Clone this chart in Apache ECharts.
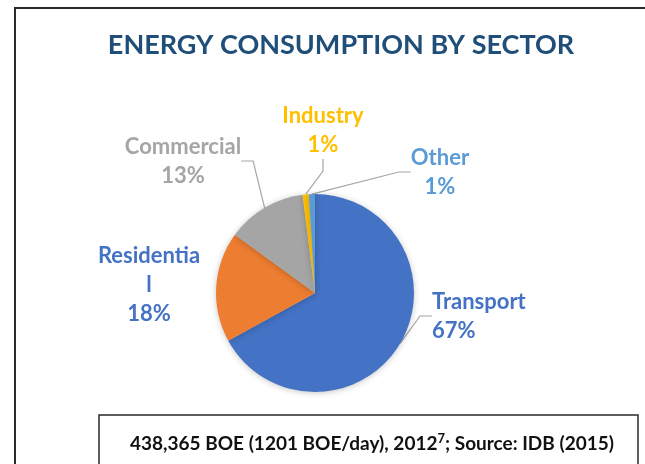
<!DOCTYPE html>
<html><head><meta charset="utf-8">
<script src="https://cdn.jsdelivr.net/npm/echarts@6/dist/echarts.min.js"></script>
<style>html,body{margin:0;padding:0;background:#fff}#c{width:645px;height:464px}</style>
</head><body><div id="c"></div>
<script>
// ---- data ----
const chartTitle = 'ENERGY CONSUMPTION BY SECTOR';
const categories = ['Transport', 'Residential', 'Commercial', 'Industry', 'Other'];
const values = [67, 18, 13, 1, 1];
const labelNames = ['Transport', 'Residentia\nl', 'Commercial', 'Industry', 'Other'];
const footMain = '438,365 BOE (1201 BOE/day), 2012';
const footSup = '7';
const footTail = '; Source: IDB (2015)';

// ---- styles / layout ----
const sliceColors = ['#4472C4', '#ED7D31', '#A5A5A5', '#FFC000', '#5B9BD5'];
const labelColors = ['#4472C4', '#4472C4', '#A5A5A5', '#FFC000', '#5B9BD5'];
const showLeader = [true, false, true, true, true];
const labelAnchors = [
  { x: 432, y: 316, align: 'left' },
  { x: 149, y: 285, align: 'center' },
  { x: 183, y: 161, align: 'center' },
  { x: 323, y: 130, align: 'center' },
  { x: 440, y: 172, align: 'center' }
];
const FONT = 'Lato';

const chart = echarts.init(document.getElementById('c'), null, { renderer: 'canvas' });
chart.setOption({
  animation: false,
  backgroundColor: '#ffffff',
  graphic: [
    { type: 'rect', z: 0, shape: { x: 15, y: 8, width: 700, height: 520 },
      style: { fill: '#fff', stroke: '#2a2a2a', lineWidth: 2 } },
    { type: 'text', z: 5, x: 341, y: 45,
      style: { text: chartTitle, textAlign: 'center', textVerticalAlign: 'middle',
        fontFamily: FONT, fontWeight: 'bold', fontSize: 27, fill: '#1F4E79' } },
    { type: 'rect', z: 5, shape: { x: 99, y: 415, width: 539, height: 80 },
      style: { fill: '#fff', stroke: '#2a2a2a', lineWidth: 1.5 } },
    { type: 'text', z: 6, x: 372, y: 444,
      style: {
        text: '{a|' + footMain + '}{s|' + footSup + '}{a|' + footTail + '}',
        textAlign: 'center', textVerticalAlign: 'middle',
        rich: {
          a: { fontFamily: FONT, fontWeight: 'bold', fontSize: 19, fill: '#111', lineHeight: 24 },
          s: { fontFamily: FONT, fontWeight: 'bold', fontSize: 13, fill: '#111', verticalAlign: 'top', lineHeight: 13 }
        }
      } }
  ],
  series: [{
    type: 'pie',
    z: 3,
    center: [315, 293],
    radius: 99,
    startAngle: 90,
    clockwise: true,
    avoidLabelOverlap: false,
    emphasis: { disabled: true },
    itemStyle: { borderWidth: 0, shadowBlur: 6, shadowColor: 'rgba(0,0,0,0.22)', shadowOffsetY: 1 },
    label: {
      show: true, position: 'outside',
      fontFamily: FONT, fontWeight: 'bold', fontSize: 22, lineHeight: 29,
      formatter: p => labelNames[p.dataIndex] + '\n' + Math.round(p.percent) + '%'
    },
    labelLine: { show: true, length: 10, length2: 12, lineStyle: { color: '#A6A6A6', width: 1.2 } },
    labelLayout: p => {
      const a = labelAnchors[p.dataIndex];
      return { x: a.x, y: a.y, align: a.align, verticalAlign: 'middle' };
    },
    data: categories.map((n, i) => ({
      name: n, value: values[i],
      itemStyle: { color: sliceColors[i] },
      label: { color: labelColors[i] },
      labelLine: { show: showLeader[i] }
    }))
  }]
});
</script></body></html>
